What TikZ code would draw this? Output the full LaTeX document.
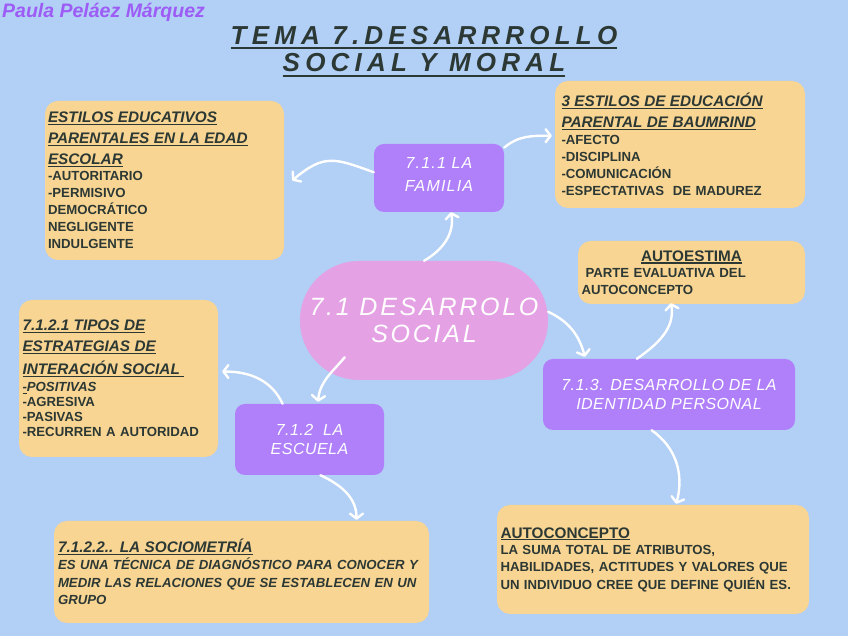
\documentclass[tikz,border=0pt]{standalone}
\usepackage{fontspec}
\setmainfont{Liberation Sans}
\newfontfamily\topicfont[LetterSpace=3]{Liberation Sans}
\newfontfamily\topicfontwide[LetterSpace=7.5]{Liberation Sans}
\newfontfamily\corefont[LetterSpace=11]{Liberation Sans}
\newfontfamily\titlefont[LetterSpace=20]{Liberation Sans}
\usetikzlibrary{arrows.meta}
\definecolor{BackBlue}{RGB}{178, 207, 245}
\definecolor{BoxOrange}{RGB}{249, 213, 147}
\definecolor{TopicPurple}{RGB}{176, 127, 250}
\definecolor{CorePink}{RGB}{228, 161, 228}
\definecolor{InkDark}{RGB}{44, 56, 52}
\definecolor{NamePurple}{RGB}{157, 92, 246}

\newsavebox{\headbox}
\newcommand{\boxhead}[1]{\leavevmode\sbox{\headbox}{#1}\rlap{\rule[-2.4pt]{\wd\headbox}{1.2pt}}\usebox{\headbox}}
\newcommand{\headsize}{\fontsize{15.3}{17}\selectfont}

\tikzset{
  infobox/.style={fill=BoxOrange, rounded corners=13pt, inner ysep=0pt, align=left, text=InkDark},
  topicbox/.style={fill=TopicPurple, rounded corners=10pt, inner sep=0pt, align=center, text=white},
  flow/.style={draw=white, line width=2.4pt, line cap=round, -{Straight Barb[length=5pt,width=13pt,round]}},
}

\begin{document}
\begin{tikzpicture}[x=1pt, y=1pt]
    % Background
    \fill[BackBlue] (0,0) rectangle (848,636);
    \useasboundingbox (0,0) rectangle (848,636);

    % Author and title
    \node[anchor=base west, inner sep=0pt, text=NamePurple, font=\bfseries\itshape\fontsize{19.5}{22}\selectfont] (author) at (2,618.5) {Paula Peláez Márquez};
    \node[anchor=base, inner sep=0pt, text=InkDark, font=\titlefont\bfseries\itshape\fontsize{26}{30}\selectfont] (title1) at (424,591.7) {TEMA 7.DESARRROLLO};
    \node[anchor=base, inner sep=0pt, text=InkDark, font=\titlefont\bfseries\itshape\fontsize{26}{30}\selectfont] (title2) at (424,564.3) {SOCIAL Y MORAL};
    \draw[InkDark, line width=2.5pt] ([yshift=-3.6pt]title1.base west) -- ([yshift=-3.6pt]title1.base east);
    \draw[InkDark, line width=2.5pt] ([yshift=-4.2pt]title2.base west) -- ([yshift=-4.2pt]title2.base east);

    % Central topic
    \node[fill=CorePink, rounded corners=59pt, minimum width=248pt, minimum height=119pt, inner sep=0pt, align=center, text=white,
      font=\corefont\itshape\fontsize{25}{27}\selectfont] (core) at (424,315.5) {7.1 DESARROLO\\SOCIAL};

    % Subtopics
    \node[topicbox, minimum width=130pt, minimum height=68pt, text depth=7pt, font=\topicfontwide\itshape\fontsize{16}{22.4}\selectfont] (familia) at (439,458) {7.1.1 LA\\FAMILIA};
    \node[topicbox, minimum width=149pt, minimum height=71pt, font=\topicfont\itshape\fontsize{16}{18.3}\selectfont] (escuela) at (309.5,196.5) {7.1.2\ \ LA\\ESCUELA};
    \node[topicbox, minimum width=252pt, minimum height=71pt, font=\topicfont\itshape\fontsize{16}{18.6}\selectfont] (identidad) at (669,241.5) {7.1.3. DESARROLLO DE LA\\IDENTIDAD PERSONAL};

    % Detail boxes
    \node[infobox, inner xsep=3pt, text width=233pt, minimum height=159pt, font=\bfseries\fontsize{13.2}{17}\selectfont] (estilos) at (164.5,455.5)
      {\boxhead{\headsize\itshape ESTILOS EDUCATIVOS}\\[4pt]
       \boxhead{\headsize\itshape PARENTALES EN LA EDAD}\\[4pt]
       \boxhead{\headsize\itshape ESCOLAR}\\[-1pt]
       -AUTORITARIO\\-PERMISIVO\\DEMOCRÁTICO\\NEGLIGENTE\\INDULGENTE};
    \node[infobox, inner xsep=6.5pt, text width=237pt, minimum height=127pt, font=\bfseries\fontsize{13.2}{17}\selectfont] (baumrind) at (680,491.5)
      {\boxhead{\headsize\itshape 3 ESTILOS DE EDUCACIÓN}\\[4pt]
       \boxhead{\headsize\itshape PARENTAL DE BAUMRIND}\\
       -AFECTO\\-DISCIPLINA\\-COMUNICACIÓN\\-ESPECTATIVAS\ \ DE MADUREZ};
    \node[infobox, inner xsep=3.5pt, text width=220pt, minimum height=63pt, font=\bfseries\fontsize{13.2}{16.5}\selectfont] (autoestima) at (691.5,363.5)
      {\makebox[220pt][c]{\boxhead{\headsize AUTOESTIMA}}\\
       \hspace*{4pt}PARTE EVALUATIVA DEL\\AUTOCONCEPTO};
    \node[infobox, inner xsep=3.5pt, text width=192pt, minimum height=157pt, font=\bfseries\fontsize{13.2}{15}\selectfont] (tipos) at (118.5,257.5)
      {\boxhead{\headsize\itshape 7.1.2.1 TIPOS DE}\\[6pt]
       \boxhead{\headsize\itshape ESTRATEGIAS DE}\\[6pt]
       \boxhead{\headsize\itshape INTERACIÓN SOCIAL\ }\\[2.4pt]
       \boxhead{\itshape -}\textit{POSITIVAS}\\-AGRESIVA\\-PASIVAS\\-RECURREN A AUTORIDAD};
    \node[infobox, inner xsep=4pt, text width=367pt, minimum height=102pt, font=\bfseries\fontsize{13.2}{17.5}\selectfont] (sociometria) at (241.5,64)
      {\boxhead{\headsize\itshape 7.1.2.2.. LA SOCIOMETRÍA}\\[-0.8pt]
       \itshape ES UNA TÉCNICA DE DIAGNÓSTICO PARA CONOCER Y\\MEDIR LAS RELACIONES QUE SE ESTABLECEN EN UN\\GRUPO};
    \node[infobox, inner xsep=3.5pt, text width=305pt, minimum height=109pt, font=\bfseries\fontsize{13.2}{17.5}\selectfont] (autoconcepto) at (653,76.5)
      {\boxhead{\headsize AUTOCONCEPTO}\\[-1.5pt]
       LA SUMA TOTAL DE ATRIBUTOS,\\HABILIDADES, ACTITUDES Y VALORES QUE\\UN INDIVIDUO CREE QUE DEFINE QUIÉN ES.};

    % Connectors
    \draw[flow] (core.north) to[out=30, in=-80] ([xshift=12pt]familia.south);
    \draw[flow] (familia.25) to[out=40, in=180] ([xshift=-3pt]baumrind.176);
    \draw[flow] (familia.175) to[out=160, in=40, looseness=1.3] ([xshift=8pt]estilos.east);
    \draw[flow] (core.4) to[out=-25, in=105] ([yshift=2pt]identidad.157);
    \draw[flow] ([xshift=45pt, yshift=23pt]core.south west) to[out=-130, in=85] ([xshift=8.5pt, yshift=2pt]escuela.north);
    \draw[flow] (escuela.127) to[out=115, in=0] ([xshift=4pt]tipos.4);
    \draw[flow] (escuela.-73) to[out=-25, in=90] ([yshift=1pt]sociometria.24);
    \draw[flow] (identidad.132) to[out=35, in=-80] ([yshift=1pt]autoestima.-123);
    \draw[flow] (identidad.-116) to[out=-35, in=75] ([yshift=1pt]autoconcepto.67);
\end{tikzpicture}
\end{document}
